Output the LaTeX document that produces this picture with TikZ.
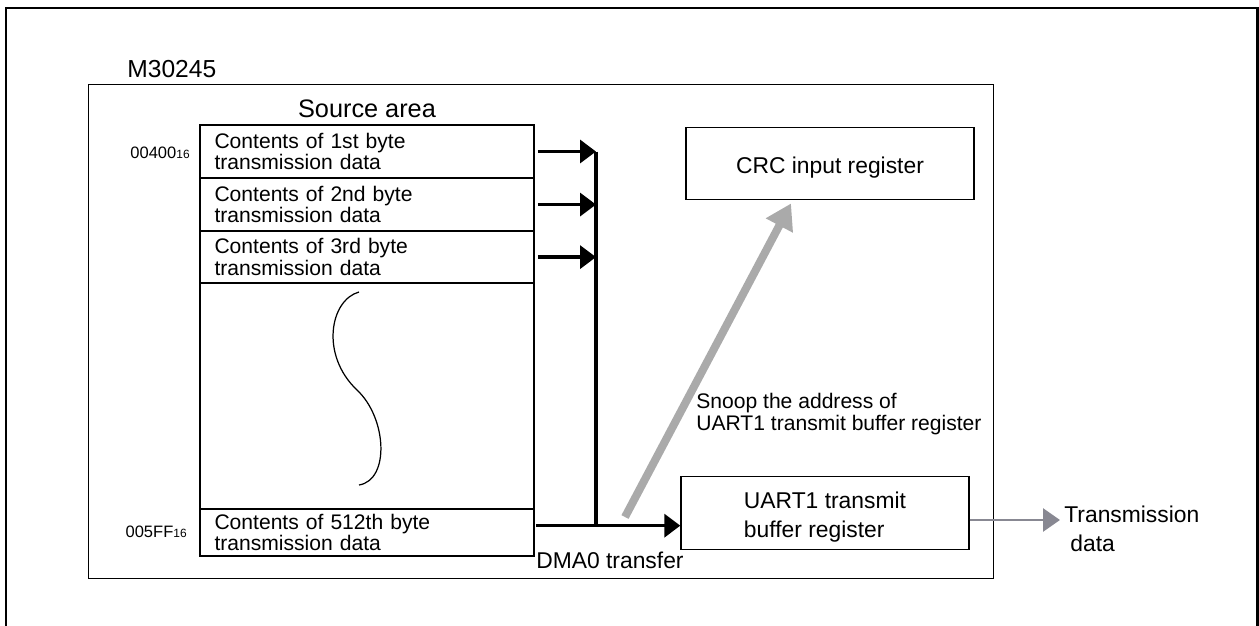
\documentclass[tikz,border=0pt]{standalone}
\usepackage{fontspec}
\setmainfont{Liberation Sans}
\usetikzlibrary{arrows.meta,positioning}
\definecolor{snoopgray}{RGB}{170,170,170}
\definecolor{txgray}{RGB}{136,136,146}
\newcommand{\hexsub}{{\fontsize{6.8}{7}\selectfont 16}}

\begin{document}
\begin{tikzpicture}[x=0.02cm, y=-0.02cm,
    cell/.style={draw, line width=0.6pt, minimum width=6.66cm, text width=6.1cm,
        align=left, inner xsep=0.26cm, inner ysep=0pt,
        font=\fontsize{12}{10.2}\selectfont},
    reg/.style={draw, line width=0.8pt, minimum width=5.76cm, minimum height=1.45cm,
        align=left, text depth=0pt, font=\fontsize{13}{16}\selectfont},
    lbl/.style={inner sep=0pt, anchor=base west},
    busline/.style={line width=2pt},
    busarrow/.style={line width=2pt, -{Triangle[length=0.32cm, width=0.46cm]}},
    snoop/.style={line width=0.16cm, snoopgray, -{Triangle[length=0.5cm, width=0.58cm]}},
    txarrow/.style={line width=1.6pt, txgray, -{Triangle[length=0.34cm, width=0.46cm]}}]
\useasboundingbox (0,0) rectangle (1259,626);
\draw[line width=1.2pt] (6,626) -- (6,8) -- (1257.5,8) -- (1257.5,626);

\node[draw, line width=0.85pt, anchor=north west, minimum width=18.1cm,
    minimum height=9.88cm, inner sep=0pt] (chip) at (88,84) {};
\node[lbl, font=\fontsize{14}{17}\selectfont] (chiplabel) at (127,77) {M30245};

\node[cell, anchor=north west, minimum height=1.04cm] (r1) at (200,125)
    {Contents of 1st byte\\transmission data};
\node[cell, below=0pt of r1, minimum height=1.04cm] (r2)
    {Contents of 2nd byte\\transmission data};
\node[cell, below=0pt of r2, minimum height=1.02cm] (r3)
    {Contents of 3rd byte\\transmission data};
\node[cell, below=0pt of r3, minimum height=4.5cm] (r4) {};
\node[cell, below=0pt of r4, minimum height=0.92cm] (r5)
    {Contents of 512th byte\\transmission data};
\draw[line width=0.9pt] (r1.north west) rectangle (r5.south east);
\node[above=0.14cm of r1, inner sep=0pt, font=\fontsize{14.4}{17}\selectfont] (srclabel)
    {Source area};
\draw[line width=0.7pt] (359,292) .. controls (330,300) and (320,355) .. (357,390)
    .. controls (387,418) and (390,480) .. (359,485);

\node[lbl, anchor=base east, font=\fontsize{9.4}{10}\selectfont] (addrfirst) at (190,158)
    {00400\hexsub};
\node[lbl, anchor=base east, font=\fontsize{9.4}{10}\selectfont] (addrlast) at (187,537)
    {005FF\hexsub};

\node[reg, text height=0.38cm] (crc) at (830,163.5) {CRC input register};
\node[reg, text height=0.96cm] (uart) at (825,513) {UART1 transmit\\buffer register};

\coordinate (bus) at (596,148);
\draw[busline] (r1.east -| bus) -- ([yshift=0.14cm]r5.east -| bus);
\foreach \r in {r1,r2,r3}
    \draw[busarrow] ([xshift=0.08cm]\r.east) -- (\r.east -| bus);
\draw[busarrow] ([xshift=0.04cm,yshift=0.14cm]r5.east) -- ([yshift=0.14cm]r5.east -| uart.west);
\node[lbl, font=\fontsize{13}{15}\selectfont] (dmalabel) at (536,568) {DMA0 transfer};

\coordinate (snoopfrom) at (625,517);
\draw[snoop] (snoopfrom) -- ([xshift=-0.78cm,yshift=-0.06cm]crc.south);
\node[lbl, align=left, font=\fontsize{12}{10.2}\selectfont] (snooplabel) at (696,430)
    {Snoop the address of\\UART1 transmit buffer register};

\node[lbl, align=left, font=\fontsize{13}{16}\selectfont] (txdata) at (1064,551)
    {Transmission\\\hspace{0.12cm}data};
\coordinate (txfrom) at ([yshift=-0.14cm]uart.east);
\draw[txarrow, shorten >=0.08cm] (txfrom) -- (txfrom -| txdata.west);
\end{tikzpicture}
\end{document}
